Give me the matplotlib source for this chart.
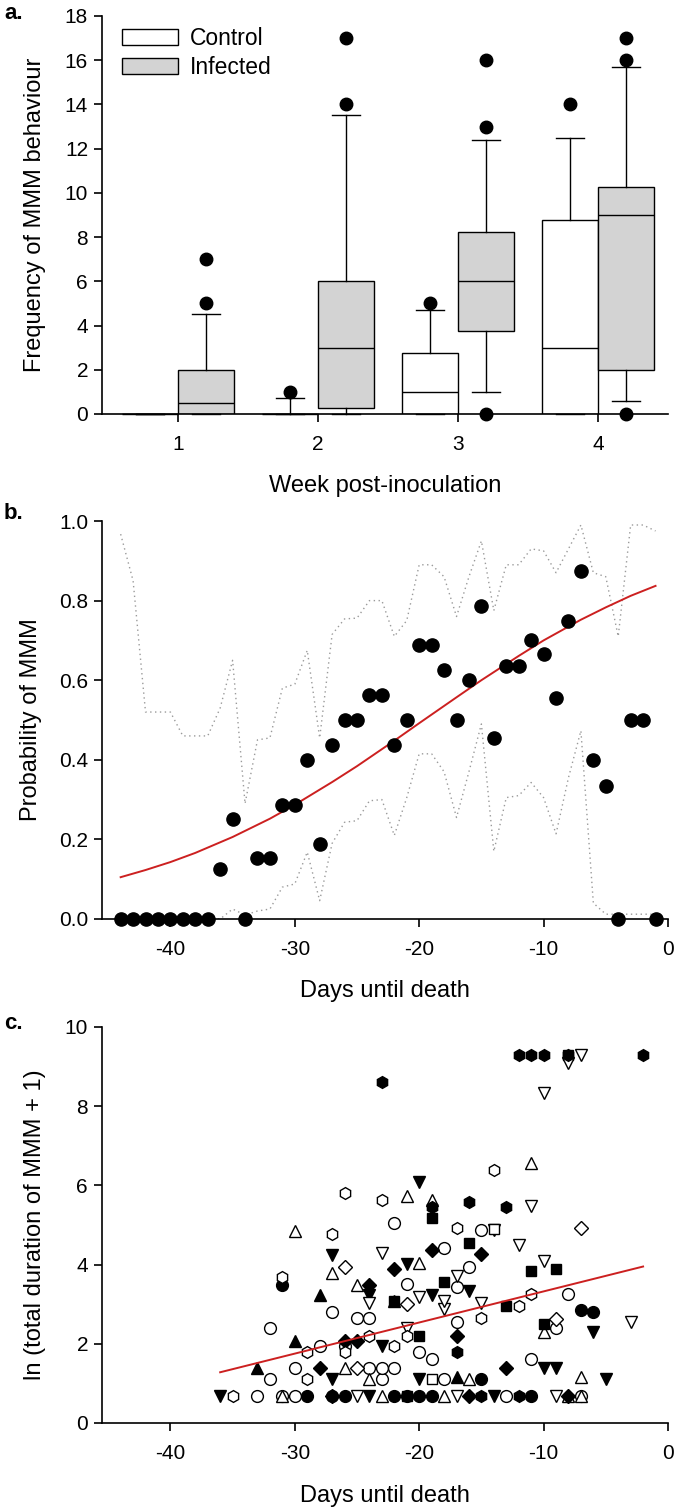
import matplotlib
matplotlib.use("Agg")
import matplotlib.pyplot as plt
from matplotlib.patches import Patch

plt.rcParams['font.family'] = ['Liberation Sans', 'DejaVu Sans']
plt.rcParams['axes.unicode_minus'] = False

# ---------------- panel a: weekly box plots ----------------
weeks = [1, 2, 3, 4]
# control: q1, median, q3, whisker low, whisker high, fliers
ctrl_q1 = [0, 0, 0, 0]
ctrl_med = [0, 0, 1, 3]
ctrl_q3 = [0, 0, 2.75, 8.75]
ctrl_lo = [0, 0, 0, 0]
ctrl_hi = [0, 0.7, 4.7, 12.5]
ctrl_fliers = [[], [1], [5], [14]]
# infected
inf_q1 = [0, 0.25, 3.75, 2]
inf_med = [0.5, 3, 6, 9]
inf_q3 = [2, 6, 8.25, 10.25]
inf_lo = [0, 0, 1, 0.6]
inf_hi = [4.5, 13.5, 12.4, 15.7]
inf_fliers = [[5, 7], [14, 17], [0, 13, 16], [0, 16, 17]]

# ---------------- panel b: probability of MMM ----------------
days_b = [-44, -43, -42, -41, -40, -39, -38, -37, -36, -35, -34, -33, -32, -31,
          -30, -29, -28, -27, -26, -25, -24, -23, -22, -21, -20, -19, -18, -17,
          -16, -15, -14, -13, -12, -11, -10, -9, -8, -7, -6, -5, -4, -3, -2, -1]
prob_b = [0, 0, 0, 0, 0, 0, 0, 0, 0.125, 0.25, 0, 0.154, 0.154, 0.286,
          0.286, 0.4, 0.1875, 0.4375, 0.5, 0.5, 0.5625, 0.5625, 0.4375, 0.5, 0.6875, 0.6875, 0.625, 0.5,
          0.6, 0.786, 0.4545, 0.636, 0.636, 0.7, 0.667, 0.556, 0.75, 0.875, 0.4, 0.333, 0, 0.5, 0.5, 0]
upper_b = [0.967, 0.85, 0.52, 0.52, 0.52, 0.46, 0.46, 0.46, 0.53, 0.65, 0.29, 0.45, 0.455, 0.58,
           0.59, 0.675, 0.455, 0.715, 0.754, 0.756, 0.80, 0.80, 0.71, 0.75, 0.89, 0.89, 0.86, 0.76,
           0.86, 0.95, 0.775, 0.89, 0.89, 0.93, 0.925, 0.87, 0.93, 0.99, 0.87, 0.86, 0.71, 0.99, 0.99, 0.975]
lower_b = [0, 0, 0, 0, 0, 0, 0, 0, 0, 0.025, 0.01, 0.02, 0.025, 0.08,
           0.088, 0.168, 0.046, 0.19, 0.243, 0.247, 0.297, 0.30, 0.21, 0.305, 0.415, 0.415, 0.37, 0.255,
           0.37, 0.49, 0.17, 0.305, 0.31, 0.343, 0.305, 0.214, 0.355, 0.473, 0.04, 0.012, 0.012, 0.012, 0.012, 0.012]
fit_days_b = [-44, -42, -40, -38, -35, -32, -30, -27, -25, -22, -20, -17, -15, -12, -10, -7, -5, -3, -1]
fit_prob_b = [0.105, 0.123, 0.143, 0.166, 0.206, 0.252, 0.287, 0.344, 0.384, 0.448, 0.492, 0.557,
              0.600, 0.661, 0.700, 0.752, 0.783, 0.812, 0.837]

# ---------------- panel c: ln(total duration + 1) per individual ----------------
fc_x = [-29, -27, -26, -22, -21, -20, -19, -11, -15, -6, -7, -31]
fc_y = [0.69, 0.69, 0.69, 0.69, 0.69, 0.69, 0.69, 0.69, 1.1, 2.79, 2.85, 3.48]

oc_x = [-33, -31, -30, -13, -7, -32, -23, -18, -30, -24, -23, -22, -19, -11, -20, -28, -26,
        -32, -9, -17, -25, -24, -27, -8, -17, -21, -16, -18, -15, -22]
oc_y = [0.69, 0.69, 0.69, 0.69, 0.69, 1.1, 1.1, 1.1, 1.39, 1.39, 1.39, 1.39, 1.61, 1.61, 1.79, 1.95, 1.95,
        2.4, 2.4, 2.56, 2.64, 2.64, 2.79, 3.26, 3.43, 3.52, 3.95, 4.43, 4.87, 5.04]

ftd_x = [-36, -24, -14, -27, -20, -5, -10, -9, -23, -6, -24, -19, -16, -21, -27, -14, -20]
ftd_y = [0.69, 0.69, 0.69, 1.1, 1.1, 1.1, 1.39, 1.39, 1.95, 2.3, 3.22, 3.22, 3.33, 4.01, 4.24, 4.88, 6.08]

otu_x = [-31, -23, -18, -8, -7, -24, -16, -7, -26, -10, -22, -25, -27, -20, -30, -19, -21, -11]
otu_y = [0.69, 0.69, 0.69, 0.69, 0.69, 1.1, 1.1, 1.15, 1.39, 2.3, 3.09, 3.48, 3.78, 4.03, 4.85, 5.63, 5.72, 6.56]

fs_x = [-21, -20, -10, -13, -22, -18, -11, -9, -16, -19, -8]
fs_y = [0.69, 2.2, 2.5, 2.96, 3.09, 3.57, 3.84, 3.88, 4.54, 5.17, 9.3]

os_x = [-19, -14]
os_y = [1.1, 4.9]

fd_x = [-27, -16, -8, -28, -13, -26, -25, -17, -24, -22, -15, -19]
fd_y = [0.69, 0.69, 0.69, 1.39, 1.39, 2.08, 2.08, 2.2, 3.48, 3.88, 4.26, 4.36]

od_x = [-25, -9, -21, -26, -7]
od_y = [1.39, 2.62, 3.0, 3.95, 4.92]

ftu_x = [-17, -33, -30, -28]
ftu_y = [1.15, 1.39, 2.08, 3.22]

otd_x = [-25, -17, -9, -21, -3, -18, -24, -15, -18, -20, -17, -10, -23, -12, -11, -10, -8, -7]
otd_y = [0.69, 0.69, 0.69, 2.4, 2.56, 2.89, 3.04, 3.04, 3.09, 3.18, 3.72, 4.1, 4.3, 4.5, 5.47, 8.34, 9.1, 9.28]

fh_x = [-15, -12, -17, -19, -13, -16, -23, -12, -11, -10, -8, -2]
fh_y = [0.69, 0.69, 1.79, 5.45, 5.45, 5.58, 8.62, 9.3, 9.3, 9.3, 9.3, 9.3]

oh_x = [-35, -29, -29, -26, -22, -24, -21, -15, -12, -11, -31, -27, -17, -23, -26, -14]
oh_y = [0.69, 1.1, 1.79, 1.79, 1.95, 2.2, 2.2, 2.64, 2.96, 3.26, 3.69, 4.77, 4.92, 5.63, 5.8, 6.38]

fit_days_c = [-36, -2]
fit_val_c = [1.28, 3.95]

TICK_FS = 15
LABEL_FS = 17
RED = '#cc2020'


def style_axes(ax):
    for s in ['top', 'right']:
        ax.spines[s].set_visible(False)
    for s in ['left', 'bottom']:
        ax.spines[s].set_linewidth(1.2)
    ax.tick_params(direction='out', length=6, width=1.2, labelsize=TICK_FS)
    ax.tick_params(axis='x', pad=9)
    ax.tick_params(axis='y', pad=4)


fig = plt.figure(figsize=(6.75, 15.08), dpi=100)
left, width = 0.1511, 0.8385

# ---- a ----
ax1 = fig.add_axes([left, 0.7255, width, 0.2639])
stats = []
pos = []
for i, w in enumerate(weeks):
    stats.append(dict(q1=ctrl_q1[i], med=ctrl_med[i], q3=ctrl_q3[i], whislo=ctrl_lo[i],
                      whishi=ctrl_hi[i], fliers=ctrl_fliers[i]))
    pos.append(w - 0.2)
ax1.bxp(stats, positions=pos, widths=0.4, capwidths=0.2, patch_artist=True,
        boxprops=dict(facecolor='white', edgecolor='black', linewidth=1),
        medianprops=dict(color='black', linewidth=1),
        whiskerprops=dict(color='black', linewidth=1),
        capprops=dict(color='black', linewidth=1),
        flierprops=dict(marker='o', markerfacecolor='black', markeredgecolor='black', markersize=9))
stats = []
pos = []
for i, w in enumerate(weeks):
    stats.append(dict(q1=inf_q1[i], med=inf_med[i], q3=inf_q3[i], whislo=inf_lo[i],
                      whishi=inf_hi[i], fliers=inf_fliers[i]))
    pos.append(w + 0.2)
ax1.bxp(stats, positions=pos, widths=0.4, capwidths=0.2, patch_artist=True,
        boxprops=dict(facecolor='#d3d3d3', edgecolor='black', linewidth=1),
        medianprops=dict(color='black', linewidth=1),
        whiskerprops=dict(color='black', linewidth=1),
        capprops=dict(color='black', linewidth=1),
        flierprops=dict(marker='o', markerfacecolor='black', markeredgecolor='black', markersize=9))
for art in ax1.lines:
    art.set_clip_on(False)
ax1.set_xlim(0.457, 4.5)
ax1.set_ylim(0, 18)
ax1.set_xticks(weeks)
ax1.set_xticklabels([str(w) for w in weeks])
ax1.set_yticks(range(0, 19, 2))
style_axes(ax1)
ax1.set_xlabel('Week post-inoculation', fontsize=LABEL_FS, va='top')
ax1.set_ylabel('Frequency of MMM behaviour', fontsize=LABEL_FS)
ax1.xaxis.set_label_coords(0.5, -0.153)
ax1.yaxis.set_label_coords(-0.099, 0.5)
handles = [Patch(facecolor='white', edgecolor='black', linewidth=1),
           Patch(facecolor='#d3d3d3', edgecolor='black', linewidth=1)]
ax1.legend(handles, ['Control', 'Infected'], loc='upper left', bbox_to_anchor=(0.035, 0.972),
           frameon=False, fontsize=16.5, handlelength=2.45, handleheight=0.66,
           handletextpad=0.5, labelspacing=0.25, borderpad=0, borderaxespad=0)

# ---- b ----
ax2 = fig.add_axes([left, 0.3906, width, 0.2639])
ax2.plot(days_b, upper_b, color='#9a9a9a', lw=1, linestyle=(0, (1, 2.5)))
ax2.plot(days_b, lower_b, color='#9a9a9a', lw=1, linestyle=(0, (1, 2.5)))
ax2.plot(fit_days_b, fit_prob_b, color=RED, lw=1.4)
ax2.plot(days_b, prob_b, 'o', color='black', markersize=9.5, clip_on=False, zorder=5)
ax2.set_xlim(-45.5, 0)
ax2.set_ylim(0, 1.0)
ax2.set_xticks([-40, -30, -20, -10, 0])
ax2.set_yticks([0, 0.2, 0.4, 0.6, 0.8, 1.0])
ax2.set_yticklabels(['0.0', '0.2', '0.4', '0.6', '0.8', '1.0'])
style_axes(ax2)
ax2.set_xlabel('Days until death', fontsize=LABEL_FS, va='top')
ax2.set_ylabel('Probability of MMM', fontsize=LABEL_FS)
ax2.xaxis.set_label_coords(0.5, -0.153)
ax2.yaxis.set_label_coords(-0.106, 0.5)

# ---- c ----
ax3 = fig.add_axes([left, 0.0564, width, 0.2626])
groups = [
    (fc_x, fc_y, 'o', 'black', 8.5),
    (oc_x, oc_y, 'o', 'white', 8.5),
    (ftd_x, ftd_y, 'v', 'black', 8.5),
    (otu_x, otu_y, '^', 'white', 8.5),
    (fs_x, fs_y, 's', 'black', 7.5),
    (os_x, os_y, 's', 'white', 7.5),
    (fd_x, fd_y, 'D', 'black', 7),
    (od_x, od_y, 'D', 'white', 7),
    (ftu_x, ftu_y, '^', 'black', 8.5),
    (otd_x, otd_y, 'v', 'white', 8.5),
    (fh_x, fh_y, 'h', 'black', 8.5),
    (oh_x, oh_y, 'h', 'white', 8.5),
]
for gx, gy, mk, fcol, ms in groups:
    ax3.plot(gx, gy, linestyle='none', marker=mk, markersize=ms, markerfacecolor=fcol,
             markeredgecolor='black', markeredgewidth=1, clip_on=False)
ax3.plot(fit_days_c, fit_val_c, color=RED, lw=1.4, zorder=4)
ax3.set_xlim(-45.5, 0)
ax3.set_ylim(0, 10)
ax3.set_xticks([-40, -30, -20, -10, 0])
ax3.set_yticks(range(0, 11, 2))
style_axes(ax3)
ax3.set_xlabel('Days until death', fontsize=LABEL_FS, va='top')
ax3.set_ylabel('ln (total duration of MMM + 1)', fontsize=LABEL_FS)
ax3.xaxis.set_label_coords(0.5, -0.157)
ax3.yaxis.set_label_coords(-0.099, 0.5)

# panel letters
fig.text(0.006, 0.998, 'a.', fontsize=16, fontweight='bold', va='top')
fig.text(0.006, 1 - 503 / 1508, 'b.', fontsize=16, fontweight='bold', va='top')
fig.text(0.006, 1 - 1013 / 1508, 'c.', fontsize=16, fontweight='bold', va='top')

fig.savefig('out.png', dpi=100)
